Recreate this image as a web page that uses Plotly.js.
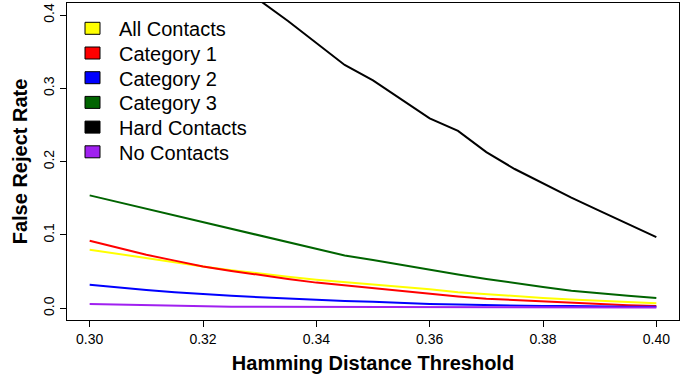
<!DOCTYPE html>
<html>
<head>
<meta charset="utf-8">
<script src="https://cdn.plot.ly/plotly-3.0.1.min.js"></script>
<style>html,body{margin:0;padding:0;background:#fff;}#chart{width:694px;height:375px;}</style>
</head>
<body>
<div id="chart"></div>
<script>
const thresholds = [0.300,0.305,0.310,0.315,0.320,0.325,0.330,0.335,0.340,0.345,0.350,0.355,0.360,0.365,0.370,0.375,0.380,0.385,0.390,0.395,0.400];
const allContacts = [0.080,0.074,0.068,0.062,0.057,0.052,0.047,0.043,0.039,0.036,0.033,0.029,0.026,0.022,0.019,0.017,0.014,0.012,0.010,0.008,0.007];
const category1 = [0.092,0.082,0.073,0.065,0.057,0.051,0.045,0.040,0.035,0.031,0.027,0.023,0.019,0.016,0.013,0.011,0.009,0.007,0.005,0.004,0.003];
const category2 = [0.032,0.028,0.025,0.022,0.019,0.017,0.015,0.013,0.011,0.010,0.009,0.007,0.006,0.005,0.004,0.004,0.003,0.003,0.002,0.002,0.002];
const category3 = [0.154,0.145,0.136,0.127,0.118,0.109,0.099,0.090,0.081,0.072,0.066,0.059,0.052,0.046,0.040,0.034,0.029,0.024,0.020,0.017,0.014];
const hardContacts = [0.630,0.590,0.550,0.520,0.480,0.450,0.420,0.392,0.362,0.332,0.311,0.285,0.259,0.242,0.213,0.190,0.170,0.151,0.133,0.115,0.097];
const noContacts = [0.006,0.005,0.004,0.003,0.003,0.002,0.002,0.002,0.001,0.001,0.001,0.001,0.001,0.001,0.001,0.001,0.001,0.001,0.001,0.001,0.001];

const seriesNames = ["All Contacts","Category 1","Category 2","Category 3","Hard Contacts","No Contacts"];
const seriesData = [allContacts, category1, category2, category3, hardContacts, noContacts];
const seriesColors = ["#ffff00","#ff0000","#0000ff","#006400","#000000","#a020f0"];
const xTicks = [0.30,0.32,0.34,0.36,0.38,0.40];
const xTickText = ["0.30","0.32","0.34","0.36","0.38","0.40"];
const yTicks = [0.0,0.1,0.2,0.3,0.4];
const yTickText = ["0.0","0.1","0.2","0.3","0.4"];

const traces = seriesData.map((ys, i) => ({
  x: thresholds, y: ys, type: 'scatter', mode: 'lines', name: seriesNames[i],
  line: {color: seriesColors[i], width: 2}, showlegend: false, hoverinfo: 'skip'
}));

// Manual R-style legend (filled boxes), positioned in plot-area pixel terms
const W = 694, H = 375, M = {l: 67, r: 15, t: 3, b: 55};
const pw = W - M.l - M.r, ph = H - M.t - M.b;
const fx = px => (px - M.l) / pw;
const fy = py => 1 - (py - M.t) / ph;
const legendTop = 28.3, legendStep = 24.7;
const shapes = [], annotations = [];
const font = "'Liberation Sans', Arial, Helvetica, sans-serif";
seriesNames.forEach((n, i) => {
  const cy = legendTop + legendStep * i;
  shapes.push({type: 'rect', xref: 'x domain', yref: 'y domain',
    x0: fx(85), x1: fx(100), y0: fy(cy + 6), y1: fy(cy - 6),
    fillcolor: seriesColors[i], line: {color: '#000', width: 1}});
  annotations.push({xref: 'x domain', yref: 'y domain', x: fx(117), y: fy(cy + 1),
    xanchor: 'left', yanchor: 'middle', text: n, showarrow: false,
    font: {size: 20, family: font, color: '#000'}});
});

const layout = {
  width: W, height: H,
  margin: M,
  paper_bgcolor: '#fff', plot_bgcolor: '#fff',
  font: {family: font, color: '#000'},
  showlegend: false,
  shapes: shapes, annotations: annotations,
  xaxis: {
    range: [0.296, 0.404], tickvals: xTicks, ticktext: xTickText,
    ticks: 'outside', ticklen: 6, tickcolor: '#000', tickwidth: 1,
    showline: true, linecolor: '#000', linewidth: 1, mirror: true,
    showgrid: false, zeroline: false,
    tickfont: {size: 14, family: font},
    title: {text: 'Hamming Distance Threshold', font: {size: 20, family: font, weight: 'bold'}, standoff: 10}
  },
  yaxis: {
    range: [-0.016, 0.4165], tickvals: yTicks, ticktext: yTickText, tickangle: -90,
    ticks: 'outside', ticklen: 6, tickcolor: '#000', tickwidth: 1,
    showline: true, linecolor: '#000', linewidth: 1, mirror: true,
    showgrid: false, zeroline: false,
    tickfont: {size: 14, family: font},
    title: {text: 'False Reject Rate', font: {size: 20, family: font, weight: 'bold'}, standoff: 8}
  }
};
Plotly.newPlot('chart', traces, layout, {displayModeBar: false, staticPlot: true});
</script>
</body>
</html>
